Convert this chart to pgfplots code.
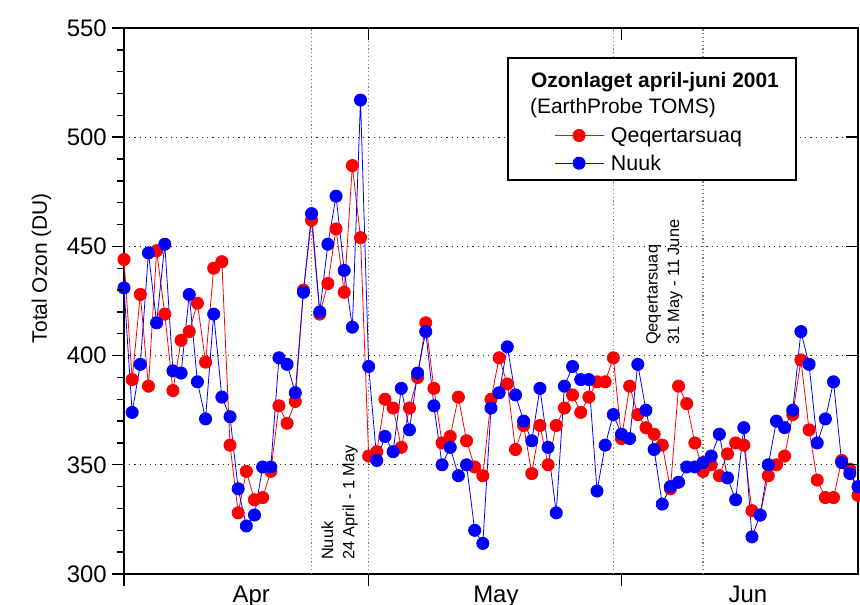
\documentclass[border=0pt]{standalone}
\usepackage{fontspec}
\setmainfont{Liberation Sans}
\usepackage{pgfplots}
\pgfplotsset{compat=1.18}
\usepackage{pgfplotstable}

% Daily total ozone, day 0 = 1 April 2001
\pgfplotstableread{
day ozone
0 444
1 389
2 428
3 386
4 448
5 419
6 384
7 407
8 411
9 424
10 397
11 440
12 443
13 359
14 328
15 347
16 334
17 335
18 347
19 377
20 369
21 379
22 430
23 462
24 419
25 433
26 458
27 429
28 487
29 454
30 354
31 356
32 380
33 376
34 358
35 376
36 390
37 415
38 385
39 360
40 363
41 381
42 361
43 349
44 345
45 380
46 399
47 387
48 357
49 368
50 346
51 368
52 350
53 368
54 376
55 382
56 374
57 381
58 388
59 388
60 399
61 362
62 386
63 373
64 367
65 364
66 359
67 339
68 386
69 378
70 360
71 347
72 350
73 345
74 355
75 360
76 359
77 329
78 327
79 345
80 350
81 354
82 373
83 398
84 366
85 343
86 335
87 335
88 352
89 348
90 336
}\qeqdata

\pgfplotstableread{
day ozone
0 431
1 374
2 396
3 447
4 415
5 451
6 393
7 392
8 428
9 388
10 371
11 419
12 381
13 372
14 339
15 322
16 327
17 349
18 349
19 399
20 396
21 383
22 429
23 465
24 420
25 451
26 473
27 439
28 413
29 517
30 395
31 352
32 363
33 356
34 385
35 366
36 392
37 411
38 377
39 350
40 358
41 345
42 350
43 320
44 314
45 376
46 383
47 404
48 382
49 370
50 361
51 385
52 358
53 328
54 386
55 395
56 389
57 389
58 338
59 359
60 373
61 364
62 362
63 396
64 375
65 357
66 332
67 340
68 342
69 349
70 349
71 351
72 354
73 364
74 344
75 334
76 367
77 317
78 327
79 350
80 370
81 367
82 375
83 411
84 396
85 360
86 371
87 388
88 351
89 346
90 340
}\nuukdata

\begin{document}
\begin{tikzpicture}
\pgfplotsset{
  frame/.style={width=734bp, height=546bp, scale only axis,
    at={(0,0)}, anchor=south west,
    xmin=0, xmax=90, ymin=300, ymax=550},
  tickonly/.style={frame, axis line style={draw=none},
    xticklabels={}, yticklabels={},
    tick style={line width=1.4bp, black}},
}
% main axis: grid, labels, data
\begin{axis}[frame, clip=false,
  axis line style={line width=1.6bp},
  xtick={15.6,45.6,76.5}, xticklabels={Apr,May,Jun},
  ytick={300,350,...,550},
  major tick length=0pt,
  ymajorgrids,
  grid style={line width=1.1bp, dash pattern=on 1.2bp off 4bp, black!85},
  tick label style={font=\fontsize{24}{28}\selectfont},
  /pgf/number format/assume math mode=true,
  xticklabel style={anchor=north, inner sep=0pt, yshift=-12bp},
  yticklabel style={anchor=east, inner sep=0pt, xshift=-17bp},
  ylabel={Total Ozon (DU)},
  ylabel style={at={(axis description cs:-0.1124,0.5604)}, anchor=center,
    font=\fontsize{21}{25}\selectfont},
  legend style={at={(axis description cs:0.5858,0.7775)}, anchor=west,
    draw=none, fill=none, inner sep=0pt, column sep=7bp, row sep=11bp,
    font=\fontsize{21.5}{25}\selectfont,
    nodes={inner sep=0pt}},
  legend cell align=left,
  legend image code/.code={\draw[mark repeat=2,mark phase=2]
    plot coordinates {(0bp,0bp) (24.5bp,0bp) (49bp,0bp)};},
]
\foreach \d in {23,30,60,71}{
  \edef\tmp{\noexpand\draw[gray, line width=1.1bp, dash pattern=on 1.2bp off 2.6bp]
    (axis cs:\d,300) -- (axis cs:\d,550);}
  \tmp
}
\addplot[red, line width=0.8bp, mark=*, mark size=6.1bp,
  mark options={solid, fill=red, draw=red}] table[x=day, y=ozone] {\qeqdata};
\addlegendentry{Qeqertarsuaq}
\addplot[blue, line width=0.8bp, mark=*, mark size=6.1bp,
  mark options={solid, fill=blue, draw=blue}] table[x=day, y=ozone] {\nuukdata};
\addlegendentry{Nuuk}

% legend frame and heading
\draw[line width=1.2bp, fill=white]
  (axis description cs:0.5232,0.7216) rectangle (axis description cs:0.9155,0.9451);
\node[anchor=base west, inner sep=0pt, font=\fontsize{21}{25}\selectfont\bfseries]
  at (axis description cs:0.5545,0.8919) {Ozonlaget april-juni 2001};
\node[anchor=base west, inner sep=0pt, font=\fontsize{21}{25}\selectfont]
  at (axis description cs:0.5531,0.8443) {(EarthProbe TOMS)};

% campaign periods
\node[rotate=90, anchor=north west, inner sep=0pt, align=left,
  font=\fontsize{16.4}{21.5}\selectfont]
  at (axis description cs:0.2684,0.0256) {Nuuk\\24 April - 1 May};
\node[rotate=90, anchor=north west, inner sep=0pt, align=left,
  font=\fontsize{16.4}{21.5}\selectfont]
  at (axis description cs:0.7112,0.4194) {Qeqertarsuaq\\31 May - 11 June};
\end{axis}

% bottom and left ticks, pointing outwards
\begin{axis}[tickonly, xtick={0,30,61}, ytick={300,350,...,550},
  minor y tick num=4, tick align=outside, xtick pos=left, ytick pos=left,
  major tick length=12bp, minor tick length=7bp]
\end{axis}
% top and right ticks, pointing inwards
\begin{axis}[tickonly, xtick={0,30,61}, ytick={300,350,...,550},
  tick align=inside, xtick pos=right, ytick pos=right,
  major tick length=12bp]
\end{axis}

\pgfresetboundingbox
\useasboundingbox (-124bp,-31bp) rectangle (736bp,574bp);
\end{tikzpicture}
\end{document}
